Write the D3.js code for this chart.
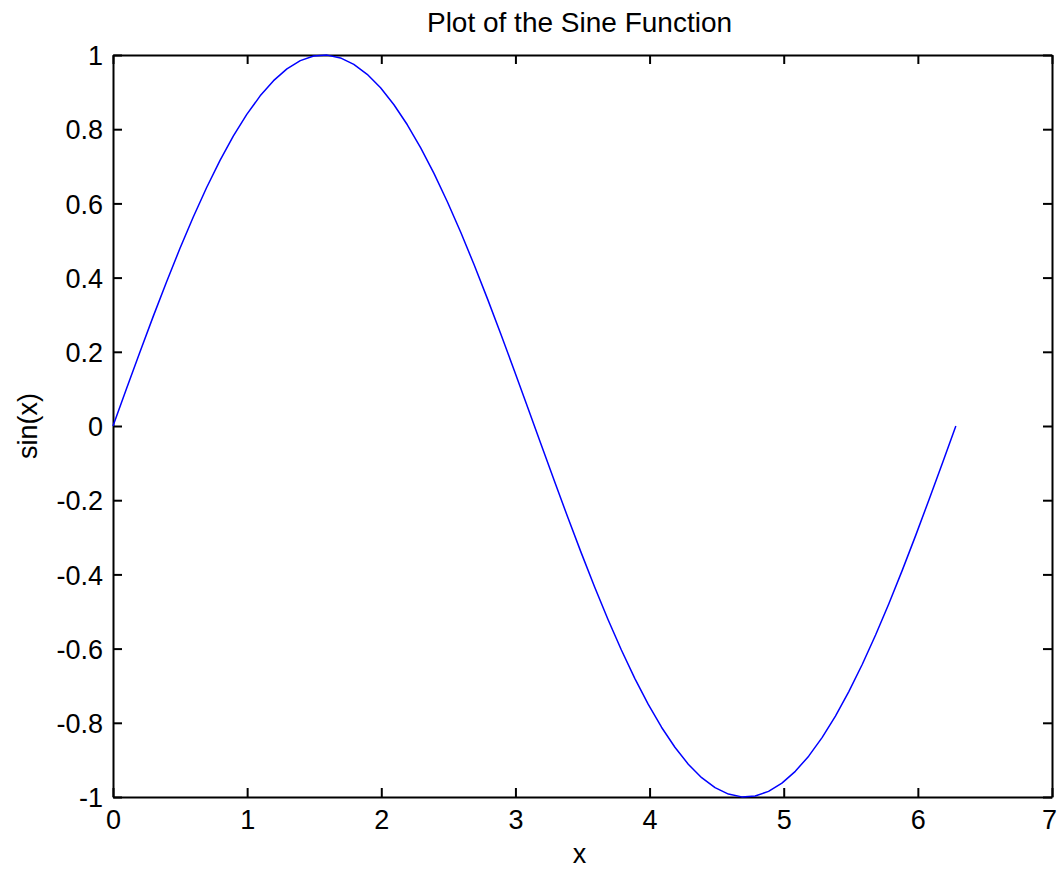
<!DOCTYPE html>
<html>
<head>
<meta charset="utf-8">
<script src="https://cdn.jsdelivr.net/npm/d3@7"></script>
<style>
  html, body { margin: 0; padding: 0; background: #fff; }
  svg { display: block; }
  text { font-family: "Liberation Sans", Arial, Helvetica, sans-serif; fill: #000; }
</style>
</head>
<body>
<svg id="chart" width="1058" height="870"></svg>
<script>
const xValues = [0, 0.0997, 0.1995, 0.2992, 0.3989, 0.4987, 0.5984, 0.6981, 0.7979, 0.8976,
  0.9973, 1.0971, 1.1968, 1.2965, 1.3963, 1.4960, 1.5957, 1.6955, 1.7952, 1.8949,
  1.9947, 2.0944, 2.1941, 2.2939, 2.3936, 2.4933, 2.5931, 2.6928, 2.7925, 2.8923,
  2.9920, 3.0917, 3.1915, 3.2912, 3.3909, 3.4907, 3.5904, 3.6901, 3.7899, 3.8896,
  3.9893, 4.0891, 4.1888, 4.2885, 4.3883, 4.4880, 4.5877, 4.6875, 4.7872, 4.8869,
  4.9867, 5.0864, 5.1861, 5.2859, 5.3856, 5.4853, 5.5851, 5.6848, 5.7845, 5.8843,
  5.9840, 6.0837, 6.1835, 6.2832];
const yValues = [0, 0.0996, 0.1981, 0.2948, 0.3884, 0.4783, 0.5633, 0.6428, 0.7159, 0.7818,
  0.8398, 0.8899, 0.9309, 0.9626, 0.9848, 0.9972, 0.9997, 0.9922, 0.9749, 0.9479,
  0.9115, 0.8660, 0.8119, 0.7498, 0.6802, 0.6038, 0.5214, 0.4339, 0.3420, 0.2468,
  0.1490, 0.0498, -0.0498, -0.1490, -0.2468, -0.3420, -0.4339, -0.5214, -0.6038, -0.6802,
  -0.7498, -0.8119, -0.8660, -0.9115, -0.9479, -0.9749, -0.9922, -0.9997, -0.9972, -0.9848,
  -0.9626, -0.9309, -0.8899, -0.8398, -0.7818, -0.7159, -0.6428, -0.5633, -0.4783, -0.3884,
  -0.2948, -0.1981, -0.0996, 0];
const xTicks = [0, 1, 2, 3, 4, 5, 6, 7];
const yTicks = [-1, -0.8, -0.6, -0.4, -0.2, 0, 0.2, 0.4, 0.6, 0.8, 1];
const titleText = "Plot of the Sine Function";
const xLabelText = "x";
const yLabelText = "sin(x)";

(function () {
const svg = d3.select("#chart");
const pLeft = 113, pRight = 1052, pTop = 55, pBottom = 797;
const x = d3.scaleLinear().domain([0, 7]).range([pLeft, pRight]);
const y = d3.scaleLinear().domain([-1, 1]).range([pBottom, pTop]);
const tickLen = 9;
const fmt = d => String(+d.toFixed(1));

const gB = svg.append("g").attr("transform", `translate(0,${pBottom})`)
  .call(d3.axisBottom(x).tickValues(xTicks).tickSizeInner(-tickLen).tickSizeOuter(0).tickPadding(13).tickFormat(fmt));
const gT = svg.append("g").attr("transform", `translate(0,${pTop})`)
  .call(d3.axisTop(x).tickValues(xTicks).tickSizeInner(-tickLen).tickSizeOuter(0).tickFormat(""));
const gL = svg.append("g").attr("transform", `translate(${pLeft},0)`)
  .call(d3.axisLeft(y).tickValues(yTicks).tickSizeInner(-tickLen).tickSizeOuter(0).tickPadding(10).tickFormat(fmt));
const gR = svg.append("g").attr("transform", `translate(${pRight},0)`)
  .call(d3.axisRight(y).tickValues(yTicks).tickSizeInner(-tickLen).tickSizeOuter(0).tickFormat(""));

[gB, gT, gL, gR].forEach(g => {
  g.select(".domain").attr("stroke", "#000").attr("stroke-width", 2);
  g.selectAll(".tick line").attr("stroke", "#000").attr("stroke-width", 2);
  g.selectAll(".tick text").attr("font-size", 27)
    .attr("font-family", "'Liberation Sans', Arial, sans-serif").attr("fill", "#000");
});
gB.selectAll(".tick text").attr("dy", "0.71em");
// keep the last label inside the window
gB.selectAll(".tick text").filter(d => d === 7).attr("x", -3);
gL.selectAll(".tick text").attr("dy", "0.36em");

const line = d3.line().x((d, i) => x(xValues[i])).y(d => y(d));
svg.append("path")
  .datum(yValues)
  .attr("fill", "none")
  .attr("stroke", "#0000ff")
  .attr("stroke-width", 1.5)
  .attr("stroke-linejoin", "round")
  .attr("d", line);

svg.append("text")
  .attr("x", (pLeft + pRight) / 2 - 3)
  .attr("y", 32)
  .attr("text-anchor", "middle")
  .attr("font-size", 28)
  .text(titleText);

svg.append("text")
  .attr("x", (pLeft + pRight) / 2 - 3)
  .attr("y", 863)
  .attr("text-anchor", "middle")
  .attr("font-size", 27)
  .text(xLabelText);

svg.append("text")
  .attr("transform", `translate(37,${(pTop + pBottom) / 2}) rotate(-90)`)
  .attr("text-anchor", "middle")
  .attr("font-size", 27)
  .text(yLabelText);
})();
</script>
</body>
</html>
